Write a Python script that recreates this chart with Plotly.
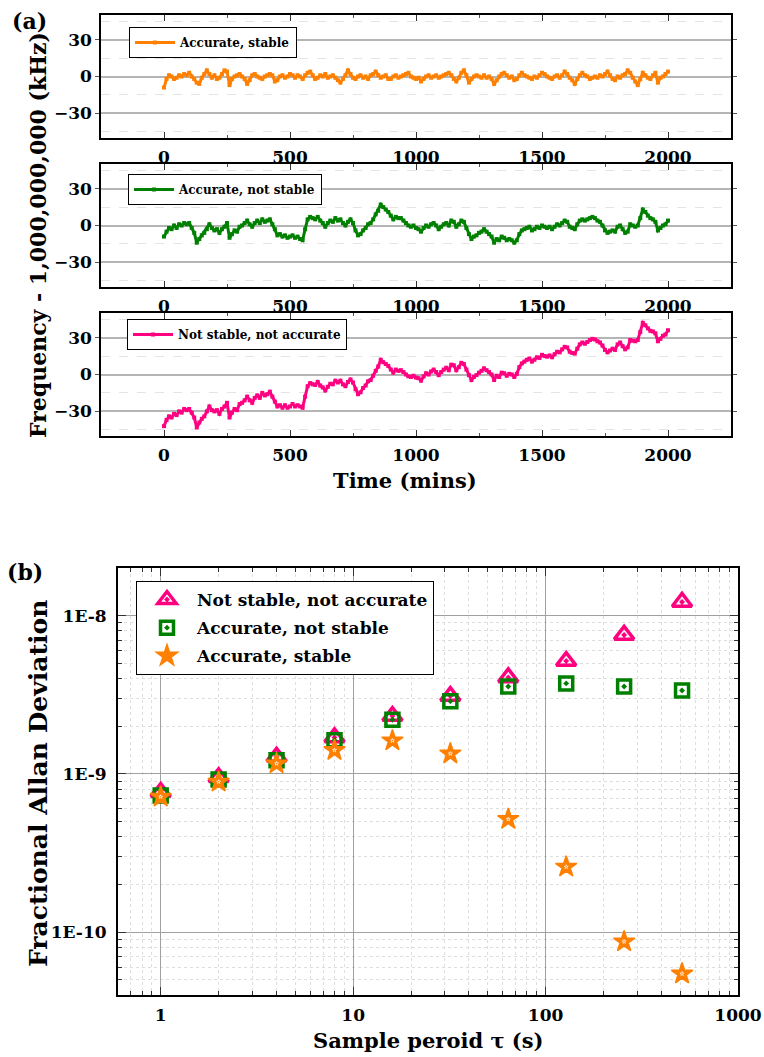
import plotly.graph_objects as go
import math

# ---------------- data: panel (a) ----------------
time_min = list(range(0, 2001, 10))

freq_accurate_stable = [
    -9, -2, 1, 0, -2, -1, 1, 0, 2, 1,
    3, 0, -2, -5, -6, -1, 2, 5, 2, -1,
    1, -2, -1, 2, 5, 4, -7, -2, 0, 1,
    2, 0, -2, -6, -3, 1, 2, 0, -1, -2,
    0, 1, 2, 1, -4, -3, 0, 1, -1, 0,
    2, 1, -1, 1, 0, -2, 1, 3, 4, 1,
    -2, -1, 1, 0, 2, -1, 0, 1, -1, -3,
    -5, -2, 1, 5, 2, -1, -2, 0, 1, -1,
    0, -2, 1, 2, 4, 1, -1, 0, 1, -2,
    -2, 0, 1, -1, 0, 1, 2, 3, 0, -1,
    -2, -1, -4, -2, 0, 1, -1, 0, 1, -1,
    0, 1, 2, 3, 1, -2, -4, -1, 3, 5,
    1, -5, -2, 0, 1, 0, -1, 1, -1, 0,
    -2, -6, -3, 0, 2, 3, 1, -1, 0, -3,
    -2, 1, 3, 1, 0, -1, -2, 0, -1, 1,
    3, 2, 0, -1, -2, 0, 1, -1, 1, 4,
    2, -1, -3, -6, -2, 1, 3, 1, 0, -2,
    -1, 0, -1, 1, 0, 2, 4, 1, -2, -3,
    0, -1, 1, 2, 5, 3, -1, -4, -7, -2,
    3, 1, -1, -2, 1, 3, -5, -1, 0, 2,
    4,
]

freq_accurate_not_stable = [
    -9, -5, -2, -3, 0, -2, 1, 0, 2, 1,
    2, -2, -6, -14, -11, -8, -6, -3, 1, -2,
    -4, -3, -6, -3, -1, 2, -10, -7, -4, -5,
    -1, 0, 2, 4, 1, -1, 2, 4, 2, 5,
    3, 4, 5, 1, -3, -8, -7, -9, -8, -10,
    -9, -8, -10, -9, -11, -12, -3, 5, 7, 6,
    5, 7, 4, 2, -1, 2, 4, 3, 6, 4,
    5, 2, 0, 3, 5, 2, -4, -8, -7, -4,
    -2, 1, 2, 5, 9, 12, 17, 15, 13, 11,
    8, 5, 7, 6, 6, 4, 2, 0, -1, 0,
    -2, -3, -5, -2, 0, -1, 1, 2, 0, -3,
    -1, 1, 2, 0, 4, 3, -1, 1, 4, 3,
    -2, -7, -11, -9, -8, -6, -5, -3, -5, -7,
    -9, -14, -11, -12, -9, -10, -12, -11, -12, -14,
    -12, -7, -4, -3, -2, -1, -4, -3, -1, -2,
    0, -1, -2, -1, -3, -1, 1, 0, 2, 4,
    3, -1, -2, -3, 1, 4, 5, 4, 5, 6,
    7, 6, 4, 3, 0, -4, -6, -5, -4, -5,
    -1, 0, -3, -6, -5, 1, 0, -1, 0, 6,
    13, 11, 8, 6, 5, 3, -4, -2, 0, 1,
    4,
]

freq_not_stable_not_accurate = [
    -42, -37, -34, -35, -32, -33, -30, -31, -28, -29,
    -28, -31, -35, -43, -39, -36, -34, -30, -26, -29,
    -30, -29, -32, -28, -26, -23, -35, -31, -28, -29,
    -24, -23, -21, -18, -21, -23, -19, -17, -19, -15,
    -17, -16, -14, -18, -22, -26, -25, -27, -25, -27,
    -26, -24, -26, -25, -26, -27, -18, -9.5, -7, -8,
    -8.5, -6, -9, -10.5, -13, -10, -7.5, -8, -5, -6.5,
    -5, -8, -9.5, -6, -4, -6.5, -12, -16, -14.5, -11,
    -9, -5.5, -4.5, -1, 3, 6.5, 12, 10, 8.5, 7,
    4, 1.5, 4, 3, 3.5, 2, 0, -1.5, -2, -1,
    -2.5, -3, -5, -1.5, 1, 0, 2.5, 4, 2, -0.5,
    2, 4, 5.5, 3.5, 8, 7.5, 3.5, 6, 9.5, 8.5,
    4, -0.5, -4.5, -2, -0.5, 1.5, 3, 5, 3.5, 2,
    0, -4.5, -1, -2, 1.5, 1, -1, 0.5, 0, -2,
    0.5, 6, 9, 10.5, 12, 13, 10.5, 12, 14, 13.5,
    16, 15, 14.5, 15.5, 14, 16.5, 18.5, 18, 20.5, 22.5,
    22, 18.5, 17.5, 17, 21, 24.5, 26, 25, 26.5, 28,
    29, 28.5, 27, 26, 23.5, 20, 18, 19.5, 21, 20,
    24.5, 26, 23, 20.5, 22, 28, 27.5, 27, 28, 34.5,
    42, 40, 37.5, 35.5, 35, 33.5, 27, 29, 31.5, 32.5,
    36,
]

freq_tickvals = [-30, 0, 30]
time_tickvals = [0, 500, 1000, 1500, 2000]

# ---------------- data: panel (b) ----------------
tau = [1, 2, 4, 8, 16, 32, 64, 128, 256, 512]
adev_not_stable_not_accurate = [7.66e-10, 9.5e-10, 1.28e-9, 1.7e-9, 2.32e-9,
                                3.1e-9, 4.07e-9, 5.16e-9, 7.55e-9, 1.22e-8]
adev_accurate_not_stable = [7.3e-10, 9.2e-10, 1.22e-9, 1.63e-9, 2.2e-9,
                            2.88e-9, 3.56e-9, 3.73e-9, 3.56e-9, 3.36e-9]
adev_accurate_stable = [7.15e-10, 8.9e-10, 1.16e-9, 1.41e-9, 1.62e-9,
                        1.34e-9, 5.17e-10, 2.58e-10, 8.7e-11, 5.45e-11]
adev_tickvals = [1e-10, 1e-9, 1e-8]
adev_ticktext = ["1E-10", "1E-9", "1E-8"]
tau_tickvals = [1, 10, 100, 1000]
tau_ticktext = ["1", "10", "100", "1000"]

# minor (log) tick positions
tau_minor = [m * 10 ** d for d in (-1, 0, 1, 2) for m in range(2, 10) if m * 10 ** d >= 0.6]
adev_minor = [m * 10.0 ** d for d in (-11, -10, -9, -8) for m in range(2, 10)
              if 4e-11 <= m * 10.0 ** d <= 2e-8]

# ---------------- styling ----------------
W, H = 764, 1057
FONT = "DejaVu Serif"
ORANGE = "#ff8000"
GREEN = "#008000"
PINK = "#ff0080"


def xd(l, r):
    return [l / W, r / W]


def yd(t, b):
    return [1 - b / H, 1 - t / H]


fig = go.Figure()

series_a = [
    (freq_accurate_stable, ORANGE, "Accurate, stable", "x", "y", "legend"),
    (freq_accurate_not_stable, GREEN, "Accurate, not stable", "x2", "y2", "legend2"),
    (freq_not_stable_not_accurate, PINK, "Not stable, not accurate", "x3", "y3", "legend3"),
]
for vals, col, name, xa, ya, lg in series_a:
    fig.add_trace(go.Scatter(
        x=time_min, y=vals, mode="lines+markers", name=name,
        line=dict(color=col, width=3),
        marker=dict(color=col, size=4, symbol="square"),
        xaxis=xa, yaxis=ya, legend=lg,
    ))

fig.add_trace(go.Scatter(
    x=tau, y=adev_not_stable_not_accurate, mode="markers",
    name="Not stable, not accurate", legend="legend4", legendgroup="g1",
    marker=dict(symbol="triangle-up-open-dot", size=17, color=PINK,
                line=dict(color=PINK, width=3.5)),
    xaxis="x4", yaxis="y4",
))
fig.add_trace(go.Scatter(
    x=tau, y=adev_accurate_not_stable, mode="markers",
    name="Accurate, not stable", legend="legend4", legendgroup="g2",
    marker=dict(symbol="square-open-dot", size=13, color=GREEN,
                line=dict(color=GREEN, width=3.5)),
    xaxis="x4", yaxis="y4",
))
fig.add_trace(go.Scatter(
    x=tau, y=adev_accurate_stable, mode="markers",
    name="Accurate, stable", legend="legend4", legendgroup="g3",
    marker=dict(symbol="star", size=16, color=ORANGE,
                line=dict(color=ORANGE, width=1.5)),
    xaxis="x4", yaxis="y4",
))
fig.add_trace(go.Scatter(
    x=tau, y=adev_accurate_stable, mode="markers", showlegend=False,
    hoverinfo="skip", legendgroup="g3",
    marker=dict(symbol="star-open", size=3, color="white",
                line=dict(color="white", width=0.7)),
    xaxis="x4", yaxis="y4",
))

tickfont = dict(family=FONT, size=17, color="black", weight="bold")

layout = dict(
    width=W, height=H, margin=dict(l=0, r=0, t=0, b=0, autoexpand=False),
    paper_bgcolor="white", plot_bgcolor="white", showlegend=True,
    font=dict(family=FONT, color="black"),
)

doms_a = [yd(15, 138), yd(164, 287), yd(313, 436)]
for i, dom in enumerate(doms_a):
    sfx = "" if i == 0 else str(i + 1)
    layout["xaxis" + sfx] = dict(
        domain=xd(101, 731), range=[-250, 2250], anchor="y" + sfx,
        automargin=False,
        tickvals=time_tickvals, ticks="inside", ticklen=6, tickwidth=1,
        tickcolor="#333", showline=True, linecolor="black", linewidth=1.5,
        mirror="ticks", showgrid=False, zeroline=False,
        minor=dict(tickvals=[-250, 250, 750, 1250, 1750, 2250], ticks="inside",
                   ticklen=3, tickcolor="#555"),
        tickfont=tickfont, ticklabelstandoff=3,
    )
    layout["yaxis" + sfx] = dict(
        domain=dom, range=[-50, 50], anchor="x" + sfx, automargin=False,
        tickvals=freq_tickvals, ticks="outside", ticklen=4, tickcolor="#555",
        showline=True, linecolor="black", linewidth=1.5, mirror="ticks",
        showgrid=True, gridcolor="#b5b5b5", gridwidth=1.5, zeroline=False,
        minor=dict(tickvals=[-45, -15, 15, 45], showgrid=True,
                   gridcolor="#e4e4e4", griddash="dash", gridwidth=1),
        tickfont=tickfont,
    )

layout["xaxis4"] = dict(
    domain=xd(118, 738), type="log", range=[math.log10(0.6), 3], anchor="y4",
    automargin=False,
    tickvals=tau_tickvals, ticktext=tau_ticktext, ticks="inside", ticklen=8,
    tickcolor="#333", showline=True, linecolor="black", linewidth=2,
    mirror="allticks", showgrid=True, gridcolor="#a0a0a0", gridwidth=1.2,
    zeroline=False,
    minor=dict(tickvals=tau_minor, ticks="inside", ticklen=4, tickcolor="#333",
               showgrid=True, gridcolor="#dedede", griddash="dot", gridwidth=1),
    tickfont=tickfont, ticklabelstandoff=4,
)
layout["yaxis4"] = dict(
    domain=yd(568, 995), type="log",
    range=[math.log10(4e-11), math.log10(2e-8)], anchor="x4", automargin=False,
    tickvals=adev_tickvals, ticktext=adev_ticktext, ticks="inside", ticklen=8,
    tickcolor="#333", showline=True, linecolor="black", linewidth=2,
    mirror="allticks", showgrid=True, gridcolor="#a0a0a0", gridwidth=1.2,
    zeroline=False,
    minor=dict(tickvals=adev_minor, ticks="inside", ticklen=4, tickcolor="#333",
               showgrid=True, gridcolor="#dedede", griddash="dot", gridwidth=1),
    tickfont=tickfont, ticklabelstandoff=6,
)

leg_common = dict(bgcolor="white", bordercolor="black", borderwidth=1,
                  xanchor="left", yanchor="top", itemwidth=40,
                  font=dict(family=FONT, size=12, color="black", weight="bold"))
layout["legend"] = dict(x=129 / W, y=1 - 27 / H, **leg_common)
layout["legend2"] = dict(x=128 / W, y=1 - 174 / H, **leg_common)
layout["legend3"] = dict(x=127 / W, y=1 - 319 / H, **leg_common)
layout["legend4"] = dict(
    x=136 / W, y=1 - 581 / H, xanchor="left", yanchor="top", itemwidth=50,
    bgcolor="white", bordercolor="black", borderwidth=1, tracegroupgap=3,
    font=dict(family=FONT, size=17, color="black", weight="bold"),
)

ann = []


def add_text(text, x, y, size, angle=0):
    ann.append(dict(text=text, x=x / W, y=1 - y / H, xref="paper", yref="paper",
                    showarrow=False, textangle=angle, xanchor="center",
                    yanchor="middle",
                    font=dict(family=FONT, size=size, color="black", weight="bold")))


add_text("(a)", 29, 21, 22)
add_text("(b)", 25, 572, 22)
add_text("Frequency - 1,000,000,000 (kHz)", 38, 235, 22, -90)
add_text("Time (mins)", 405, 481, 21)
add_text("Fractional Allan Deviation", 38, 784, 25, -90)
add_text("Sample peroid τ (s)", 428, 1040, 21)
layout["annotations"] = ann

fig.update_layout(**layout)
fig.write_html("out.html")
